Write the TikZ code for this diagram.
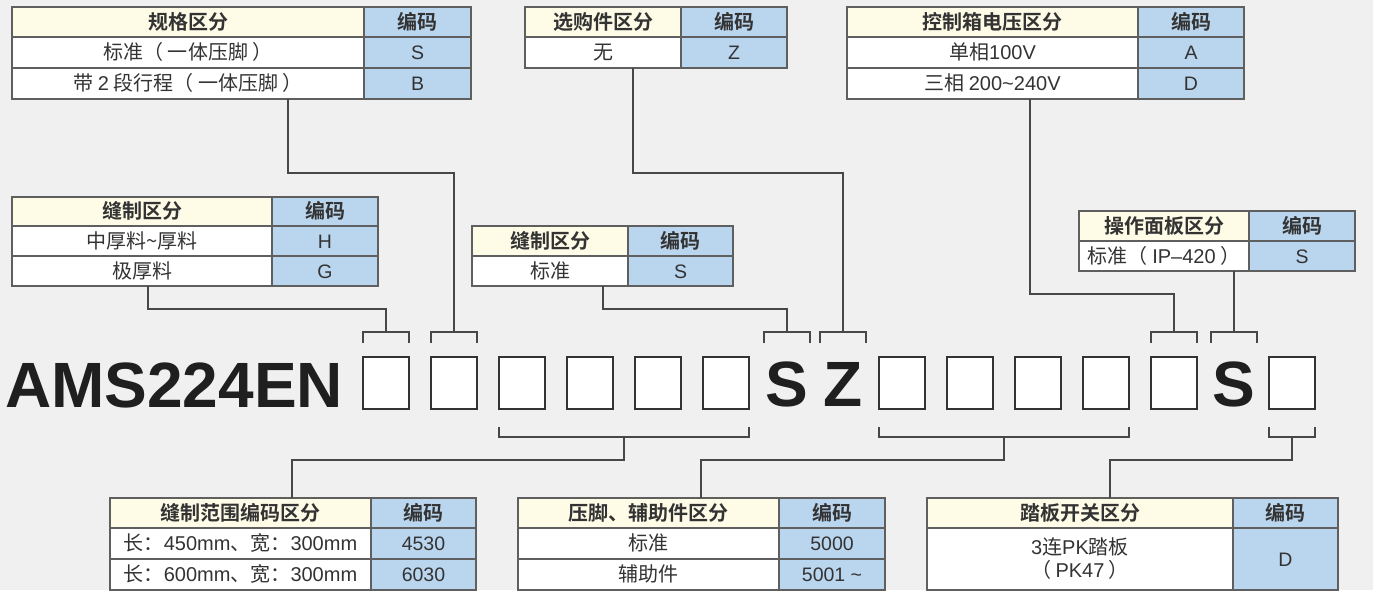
\documentclass[tikz,border=0pt]{standalone}
\usepackage{fontspec}
\setmainfont{Noto Sans CJK SC}[BoldFont={Noto Sans CJK SC Bold}]
\newfontfamily\bigfont{Liberation Sans}
\newfontfamily\latfont{Liberation Sans}
\usetikzlibrary{calc}
\definecolor{paper}{HTML}{F0F0F0}
\definecolor{headyel}{HTML}{FEFBE7}
\definecolor{codeblu}{HTML}{BAD5EE}
\definecolor{rule}{HTML}{5F5F5F}
\definecolor{ink}{HTML}{333333}
% latin runs inside chinese text
\newcommand{\lsf}[1]{{\latfont #1}}
% one table cell: name, style, x1, y1, x2, y2, text
\newcommand{\tcell}[7]{\node[#2,minimum width={(#5-#3)*1pt},minimum
  height={(#6-#4)*1pt}] (#1) at ({(#3+#5)/2},{(#4+#6)/2}) {#7};}
% bracket over / under a code slot
\newcommand{\upbrk}[1]{\draw[link] ([yshift=14pt]#1.north west) --
  ([yshift=25pt]#1.north west) -- ([yshift=25pt]#1.north east) --
  ([yshift=14pt]#1.north east); \coordinate (#1top) at ([yshift=25pt]#1.north);}
\newcommand{\downbrk}[3]{\draw[link] ([yshift=-18pt]#1.south west) --
  ([yshift=-28pt]#1.south west) -- ([yshift=-28pt]#2.south east) --
  ([yshift=-18pt]#2.south east); \path ($(#1.south west)!.5!(#2.south east)$)
  ++(0,28) coordinate (#3);}

\begin{document}
\begin{tikzpicture}[x=1pt,y=-1pt,
    cellbase/.style={draw=rule,line width=1.2pt,inner sep=0pt,outer sep=0pt,
      text=ink,font=\fontsize{20}{23}\selectfont},
    tx/.style={text height=16pt,text depth=2pt},
    hd/.style={cellbase,tx,fill=headyel,font=\fontsize{20}{23}\selectfont\bfseries},
    hdc/.style={hd,fill=codeblu},
    bd/.style={cellbase,tx,fill=white},
    bdm/.style={cellbase,fill=white,align=center},
    cd/.style={cellbase,tx,fill=codeblu,font=\latfont\fontsize{19.5}{23}\selectfont},
    slot/.style={draw=black!80,line width=2pt,fill=white,minimum width=46pt,
      minimum height=52pt,inner sep=0pt,outer sep=0pt},
    glyph/.style={minimum width=46pt,minimum height=52pt,inner sep=0pt,outer sep=0pt,
      text height=46pt,text depth=0pt,text=black!88,
      font=\bigfont\bfseries\fontsize{64}{64}\selectfont},
    link/.style={draw=black!72,line width=1.3pt}]
  \fill[paper] (0,0) rectangle (1373,590);
  \useasboundingbox (0,0) rectangle (1373,590);

  % top row of tables
  \tcell{t1h}{hd}{12}{7}{364}{37}{规格区分}
  \tcell{t1c}{hdc}{364}{7}{471}{37}{编码}
  \tcell{t1l1}{bd}{12}{37}{364}{68}{标准（ 一体压脚 ）}
  \tcell{t1r1}{cd}{364}{37}{471}{68}{S}
  \tcell{t1l2}{bd}{12}{68}{364}{99}{带 \lsf{2} 段行程（ 一体压脚 ）}
  \tcell{t1r2}{cd}{364}{68}{471}{99}{B}

  \tcell{t2h}{hd}{525}{7}{681}{37}{选购件区分}
  \tcell{t2c}{hdc}{681}{7}{787}{37}{编码}
  \tcell{t2l1}{bd}{525}{37}{681}{68}{无}
  \tcell{t2r1}{cd}{681}{37}{787}{68}{Z}

  \tcell{t3h}{hd}{847}{7}{1138}{37}{控制箱电压区分}
  \tcell{t3c}{hdc}{1138}{7}{1244}{37}{编码}
  \tcell{t3l1}{bd}{847}{37}{1138}{68}{单相\lsf{100V}}
  \tcell{t3r1}{cd}{1138}{37}{1244}{68}{A}
  \tcell{t3l2}{bd}{847}{68}{1138}{99}{三相 \lsf{200\textasciitilde{}240V}}
  \tcell{t3r2}{cd}{1138}{68}{1244}{99}{D}

  % middle tables
  \tcell{t4h}{hd}{12}{197}{272}{226}{缝制区分}
  \tcell{t4c}{hdc}{272}{197}{378}{226}{编码}
  \tcell{t4l1}{bd}{12}{226}{272}{256}{中厚料\textasciitilde{}厚料}
  \tcell{t4r1}{cd}{272}{226}{378}{256}{H}
  \tcell{t4l2}{bd}{12}{256}{272}{286}{极厚料}
  \tcell{t4r2}{cd}{272}{256}{378}{286}{G}

  \tcell{t5h}{hd}{472}{226}{628}{256}{缝制区分}
  \tcell{t5c}{hdc}{628}{226}{733}{256}{编码}
  \tcell{t5l1}{bd}{472}{256}{628}{286}{标准}
  \tcell{t5r1}{cd}{628}{256}{733}{286}{S}

  \tcell{t6h}{hd}{1079}{211}{1249}{241}{操作面板区分}
  \tcell{t6c}{hdc}{1249}{211}{1355}{241}{编码}
  \tcell{t6l1}{bd}{1079}{241}{1249}{271}{标准（ \lsf{IP–420} ）}
  \tcell{t6r1}{cd}{1249}{241}{1355}{271}{S}

  % bottom tables
  \tcell{t7h}{hd}{110}{498}{371}{528}{缝制范围编码区分}
  \tcell{t7c}{hdc}{371}{498}{476}{528}{编码}
  \tcell{t7l1}{bd}{110}{528}{371}{559}{长：\lsf{450mm}、宽：\lsf{300mm}}
  \tcell{t7r1}{cd}{371}{528}{476}{559}{4530}
  \tcell{t7l2}{bd}{110}{559}{371}{590}{长：\lsf{600mm}、宽：\lsf{300mm}}
  \tcell{t7r2}{cd}{371}{559}{476}{590}{6030}

  \tcell{t8h}{hd}{518}{498}{779}{528}{压脚、辅助件区分}
  \tcell{t8c}{hdc}{779}{498}{885}{528}{编码}
  \tcell{t8l1}{bd}{518}{528}{779}{559}{标准}
  \tcell{t8r1}{cd}{779}{528}{885}{559}{5000}
  \tcell{t8l2}{bd}{518}{559}{779}{590}{辅助件}
  \tcell{t8r2}{cd}{779}{559}{885}{590}{5001 \textasciitilde{}}

  \tcell{t9h}{hd}{927}{498}{1233}{528}{踏板开关区分}
  \tcell{t9c}{hdc}{1233}{498}{1338}{528}{编码}
  \tcell{t9l1}{bdm}{927}{528}{1233}{590}{\lsf{3}连\lsf{PK}踏板\\（ \lsf{PK47} ）}
  \tcell{t9r1}{cd}{1233}{528}{1338}{590}{D}

  % model code
  \node[anchor=base west,inner sep=0pt,text=black!88,
    font=\bigfont\bfseries\fontsize{64}{64}\selectfont] (ttl) at (5,407) {AMS224EN};
  \node[slot] (b1) at (386,383) {}; \node[slot] (b2) at (454,383) {};
  \node[slot] (b3) at (522,383) {}; \node[slot] (b4) at (590,383) {};
  \node[slot] (b5) at (658,383) {}; \node[slot] (b6) at (726,383) {};
  \node[glyph] (ls1) at (787,383) {S}; \node[glyph] (lz) at (843,383) {Z};
  \node[slot] (b7) at (902,383) {}; \node[slot] (b8) at (970,383) {};
  \node[slot] (b9) at (1038,383) {}; \node[slot] (b10) at (1106,383) {};
  \node[slot] (b11) at (1174,383) {};
  \node[glyph] (ls2) at (1234,383) {S};
  \node[slot] (b12) at (1292,383) {};

  % brackets and leader lines
  \upbrk{b1} \upbrk{b2} \upbrk{ls1} \upbrk{lz} \upbrk{b11} \upbrk{ls2}
  \draw[link] (t4l2.south -| 148,0) -- ++(0,23) -| (b1top);
  \draw[link] (t1l2.south -| 288,0) -- ++(0,74) -| (b2top);
  \draw[link] (t5l1.south -| 603,0) -- ++(0,23) -| (ls1top);
  \draw[link] (t2l1.south -| 633,0) -- ++(0,105) -| (lztop);
  \draw[link] (t3l2.south -| 1030,0) -- ++(0,195) -| (b11top);
  \draw[link] (t6l1.south -| ls2top) -- (ls2top);

  \downbrk{b3}{b6}{d1} \downbrk{b7}{b10}{d2} \downbrk{b12}{b12}{d3}
  \draw[link] (d1) -- ++(0,23) -| (t7h.north -| 292,0);
  \draw[link] (d2) -- ++(0,23) -| (t8h.north -| 701,0);
  \draw[link] (d3) -- ++(0,23) -| (t9h.north -| 1110,0);
\end{tikzpicture}
\end{document}
